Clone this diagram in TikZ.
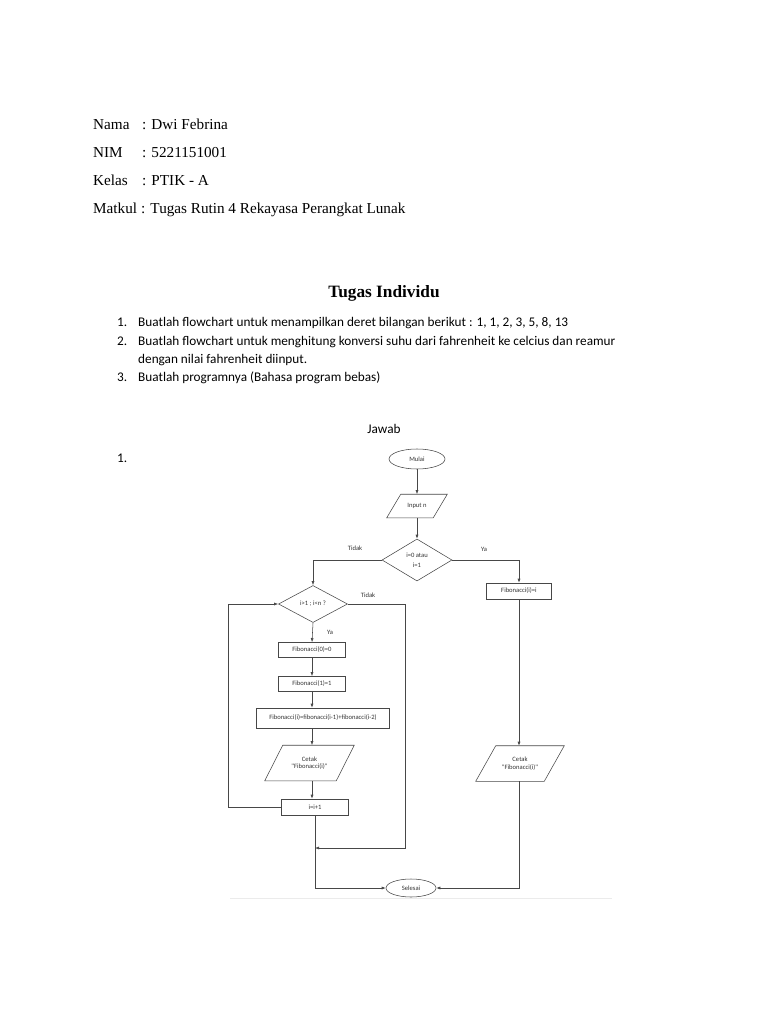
\documentclass[tikz,border=0pt]{standalone}
\usepackage{fontspec}
\setmainfont{Liberation Serif}
\newfontfamily\calib{Carlito}
\usetikzlibrary{shapes.geometric,arrows.meta}
\begin{document}
\begin{tikzpicture}[x=1pt,y=-1pt,
  hdr/.style={anchor=base west,inner sep=0pt,font=\fontsize{15.2}{15.2}\selectfont},
  body/.style={anchor=base west,inner sep=0pt,font=\calib\fontsize{13.25}{13.25}\selectfont},
  fc/.style={draw=black!72,line width=0.55pt,font=\calib\fontsize{6.6}{7.5}\selectfont,text=black!80,inner sep=1pt,align=center},
  proc/.style={fc,rectangle},
  term/.style={fc,ellipse},
  dec/.style={fc,diamond,aspect=1.7,inner sep=0pt},
  io/.style={fc,draw=none,rectangle,inner sep=0pt},
  pg/.style={draw=black!72,line width=0.55pt},
  lbl/.style={font=\calib\fontsize{6.6}{7.5}\selectfont,inner sep=0pt,text=black!80},
  arr/.style={draw=black!72,line width=0.55pt,-{Latex[length=4pt,width=3pt]}},
  ln/.style={draw=black!72,line width=0.55pt}]
\useasboundingbox[fill=white] (0,0) rectangle (768,1024);

% header
\node[hdr] (n1) at (93,130) {Nama};
\node[hdr] (n1b) at (142,130) {: Dwi Febrina};
\node[hdr] (n2) at (93,158) {NIM};
\node[hdr] (n2b) at (142,158) {: 5221151001};
\node[hdr] (n3) at (93,186) {Kelas};
\node[hdr] (n3b) at (142,186) {: PTIK - A};
\node[hdr] (n4) at (93,214) {Matkul};
\node[hdr] (n4b) at (141,214) {: Tugas Rutin 4 Rekayasa Perangkat Lunak};

\node[inner sep=0pt,font=\bfseries\fontsize{17.3}{17.3}\selectfont] (title) at (384,293) {Tugas Individu};

\node[body] (l1) at (117,326) {1.};
\node[body] (t1) at (138,326) {Buatlah flowchart untuk menampilkan deret bilangan berikut : 1, 1, 2, 3, 5, 8, 13};
\node[body] (l2) at (117,345) {2.};
\node[body] (t2) at (138,345) {Buatlah flowchart untuk menghitung konversi suhu dari fahrenheit ke celcius dan reamur};
\node[body] (t2b) at (138,363) {dengan nilai fahrenheit diinput.};
\node[body] (l3) at (117,381) {3.};
\node[body] (t3) at (138,381) {Buatlah programnya (Bahasa program bebas)};

\node[inner sep=0pt,font=\calib\fontsize{13.25}{13.25}\selectfont] (jawab) at (384,429) {Jawab};
\node[body] (one) at (117,462) {1.};

% flowchart
\node[term,minimum width=56pt,minimum height=20pt] (mulai) at (417,459) {Mulai};
\node[io,minimum width=60pt,minimum height=23pt] (input) at (417,506) {Input n};
\draw[pg] ([xshift=14pt]input.north west) -- (input.north east) -- ([xshift=-14pt]input.south east) -- (input.south west) -- cycle;
\node[dec,minimum width=70pt,minimum height=42pt] (d1) at (417,560) {i=0 atau\\[2pt]i=1};
\node[proc,minimum width=65pt,minimum height=16pt] (fi) at (519,591) {Fibonacci(i)=i};
\node[dec,minimum width=69pt,minimum height=37pt] (d2) at (313,604) {i>1 ; i<n ?};
\node[proc,minimum width=67pt,minimum height=15pt] (f0) at (312,650) {Fibonacci(0)=0};
\node[proc,minimum width=67pt,minimum height=15pt] (f1) at (312,684) {Fibonacci(1)=1};
\node[proc,minimum width=133pt,minimum height=20pt] (fn) at (323,718) {Fibonacci(i)=fibonacci(i-1)+fibonacci(i-2)};
\node[io,minimum width=89pt,minimum height=35pt] (c1) at (309.5,763) {Cetak\\"Fibonacci(i)"};
\draw[pg] ([xshift=18pt]c1.north west) -- (c1.north east) -- ([xshift=-18pt]c1.south east) -- (c1.south west) -- cycle;
\node[proc,minimum width=67pt,minimum height=16pt] (inc) at (315,807) {i=i+1};
\node[io,minimum width=88pt,minimum height=35pt] (c2) at (520,763.5) {Cetak\\"Fibonacci(i)"};
\draw[pg] ([xshift=20pt]c2.north west) -- (c2.north east) -- ([xshift=-20pt]c2.south east) -- (c2.south west) -- cycle;
\node[term,minimum width=50pt,minimum height=18pt] (sel) at (411,888) {Selesai};

\coordinate (m1) at (315,848);
\coordinate (m2) at (315,888);

\draw[arr] (mulai) -- (input);
\draw[arr] (input) -- (d1);
\draw[arr] (d1.west) -| (d2.north);
\draw[arr] (d1.east) -| (fi.north);
\draw[arr] (d2.south) -- (f0.north);
\draw[arr] (f0) -- (f1);
\draw[arr] (f1.south) -- (fn.north -| f1.south);
\draw[arr] (fn.south -| f1.south) -- (c1.north -| f1.south);
\draw[arr] (c1.south -| f1.south) -- (inc.north -| f1.south);
\draw[arr] (inc.west) -- ++(-53,0) |- (d2.west);
\draw[arr] (d2.east) -- ++(57,0) |- (m1);
\draw[ln] (inc.south) -- (m2);
\draw[arr] (m2) -- (sel.west);
\draw[arr] (fi.south) -- (c2.north -| fi.south);
\draw[arr] (c2.south -| fi.south) |- (sel.east);

\node[lbl] (tdk1) at (355,548) {Tidak};
\node[lbl] (ya1) at (484,549) {Ya};
\node[lbl] (tdk2) at (368,595) {Tidak};
\node[lbl] (ya2) at (330,632) {Ya};

\draw[black!8,line width=0.8pt] (230,898) -- (612,898);
\end{tikzpicture}
\end{document}
